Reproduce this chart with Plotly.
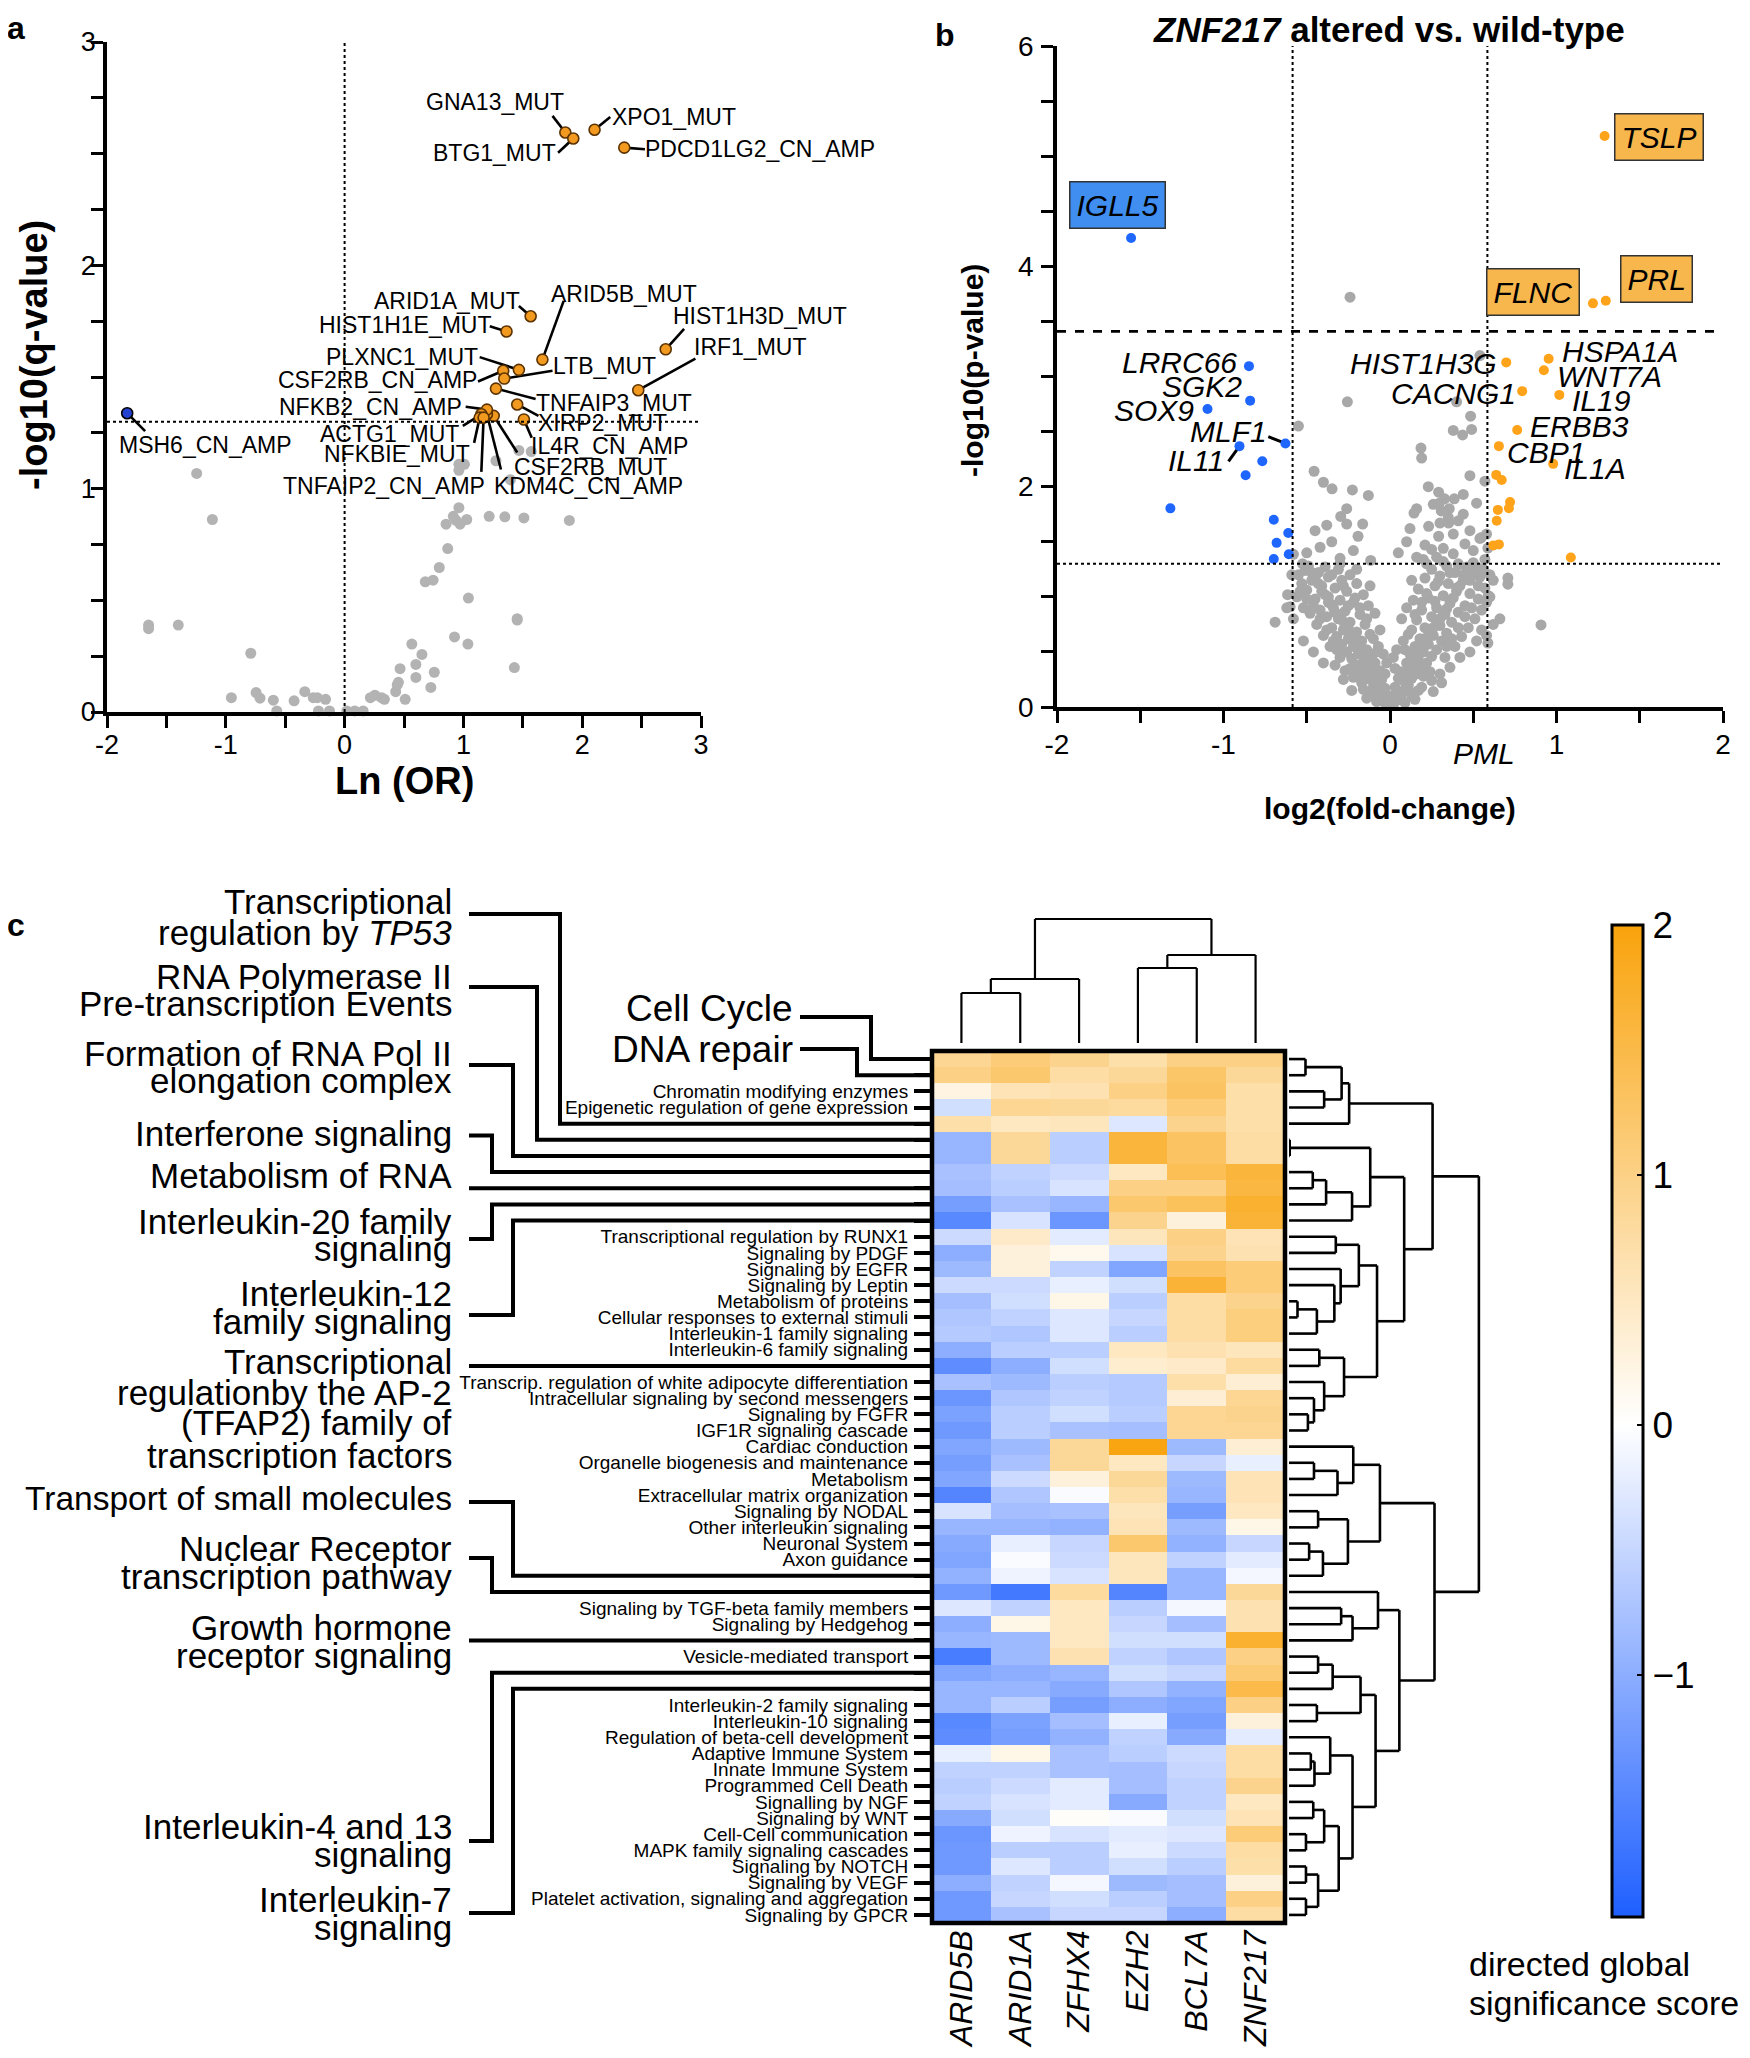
import plotly.graph_objects as go

W, H = 1750, 2058          # page size
PAGE_MARGIN = 8            # default body margin of the html page
FONT = "Liberation Sans, Arial, Helvetica, sans-serif"

# ===================== DATA : panel a =====================
a_gray_points = [
    (-1.245, 1.068), (-1.113, 0.862), (-1.65, 0.389), (-1.65, 0.373), (-1.40, 0.389),
    (-0.79, 0.263), (-0.953, 0.064), (-0.745, 0.087), (-0.712, 0.062), (-0.60, 0.053),
    (-0.571, 0.005), (-0.425, 0.05), (-0.335, 0.091), (-0.264, 0.064), (-0.23, 0.064),
    (-0.16, 0.057), (-0.22, 0.005), (-0.127, 0.005), (0.019, 0.005), (0.085, 0.005),
    (0.156, 0.005), (0.217, 0.064), (0.255, 0.075), (0.311, 0.064), (0.335, 0.057),
    (0.43, 0.091), (0.443, 0.121), (0.453, 0.133), (0.51, 0.057), (0.467, 0.194),
    (0.566, 0.304), (0.60, 0.213), (0.60, 0.155), (0.651, 0.258), (0.726, 0.11),
    (0.755, 0.178), (0.679, 0.583), (0.745, 0.59), (0.797, 0.647), (0.868, 0.732),
    (0.854, 0.841), (0.915, 0.876), (0.939, 0.858), (0.962, 0.915), (0.972, 0.841),
    (1.028, 0.862), (1.042, 0.51), (0.925, 0.336), (1.038, 0.304), (1.217, 0.876),
    (1.349, 0.874), (1.509, 0.869), (1.892, 0.858), (1.453, 0.412), (1.453, 0.418),
    (1.429, 0.199), (0.962, 1.109), (1.009, 1.109), (0.962, 1.082), (1.274, 1.125),
    (1.396, 1.04), (1.467, 1.171), (1.571, 1.166),
]
a_sig_names = ["GNA13_MUT", "BTG1_MUT", "XPO1_MUT", "PDCD1LG2_CN_AMP", "ARID1A_MUT",
               "HIST1H1E_MUT", "ARID5B_MUT", "HIST1H3D_MUT", "PLXNC1_MUT", "CSF2RB_CN_AMP",
               "LTB_MUT", "IRF1_MUT", "TNFAIP3_MUT", "XIRP2_MUT", "IL4R_CN_AMP",
               "CSF2RB_MUT", "KDM4C_CN_AMP", "NFKB2_CN_AMP", "ACTG1_MUT", "NFKBIE_MUT",
               "TNFAIP2_CN_AMP"]
a_sig_x = [1.858, 1.925, 2.104, 2.354, 1.566, 1.363, 1.665, 2.703, 1.467, 1.335,
           1.344, 2.472, 1.274, 1.453, 1.509, 1.255, 1.198, 1.198, 1.151, 1.137, 1.170]
a_sig_y = [2.595, 2.568, 2.607, 2.527, 1.772, 1.704, 1.578, 1.624, 1.532, 1.528,
           1.493, 1.441, 1.448, 1.377, 1.310, 1.326, 1.333, 1.354, 1.333, 1.318, 1.318]
a_neg_names = ["MSH6_CN_AMP"]
a_neg_x = [-1.83]
a_neg_y = [1.338]
a_x_ticks = [-2, -1, 0, 1, 2, 3]
a_y_ticks = [0, 1, 2, 3]
a_q_cut = 1.30

# ===================== DATA : panel b =====================
b_gray_points = [
    (-0.24, 3.72), (-0.256, 2.77), (-0.55, 2.55), (0.54, 3.19), (0.40, 2.77), (0.484, 2.64),
    (0.49, 2.52), (0.38, 2.51), (0.436, 2.47), (0.186, 2.35), (0.19, 2.26),
    (-0.456, 2.14), (-0.40, 2.04), (-0.348, 1.98), (-0.226, 1.97), (-0.13, 1.92), (-0.26, 1.80),
    (-0.296, 1.73), (-0.26, 1.66), (-0.164, 1.66), (-0.192, 1.55),
    (0.292, 1.95), (0.44, 1.93), (0.386, 1.89), (0.328, 1.89), (0.26, 1.84), (0.296, 1.85),
    (0.308, 1.78), (0.356, 1.80), (0.16, 1.80), (0.144, 1.76), (0.232, 1.64), (0.30, 1.67),
    (0.352, 1.67), (0.41, 1.69), (0.292, 1.55), (0.38, 1.57), (0.21, 1.47), (0.25, 1.43),
    (0.32, 1.44), (0.38, 1.39), (0.50, 1.42), (0.54, 1.53), (0.58, 1.57), (0.16, 1.36),
    (0.20, 1.34), (0.28, 1.36), (0.41, 1.29), (0.50, 1.31), (0.57, 1.34), (0.588, 1.443),
    (0.548, 1.538), (0.521, 1.253), (0.498, 1.267),
    (-0.116, 1.33), (-0.58, 1.386), (-0.525, 1.30), (-0.59, 1.20), (-0.615, 1.02),
    (-0.60, 0.91), (-0.69, 0.77), (0.708, 1.17), (0.708, 1.115), (0.907, 0.745), (0.588, 0.58),
    (-0.42, 1.45), (-0.35, 1.50), (-0.30, 1.35), (-0.22, 1.42), (-0.45, 1.60), (-0.50, 1.40),
    (-0.38, 1.65), (0.10, 1.50), (0.12, 1.62), (0.05, 1.40), (0.45, 1.48), (0.48, 1.60),
    (0.44, 1.75), (0.35, 1.72), (0.52, 1.85), (0.57, 2.05), (0.48, 2.10), (0.23, 2.00),
    (-0.02, 0.02), (-0.04, 0.05), (-0.06, 0.08), (-0.05, 0.12), (-0.08, 0.15), (-0.10, 0.18),
    (-0.07, 0.22), (-0.12, 0.25), (-0.15, 0.28), (-0.10, 0.30), (-0.18, 0.32), (-0.13, 0.35),
    (-0.20, 0.38), (-0.16, 0.41), (-0.23, 0.44), (-0.11, 0.45), (-0.19, 0.48), (-0.26, 0.50),
    (-0.14, 0.52), (-0.22, 0.55), (-0.29, 0.57), (-0.17, 0.60), (-0.25, 0.62), (-0.32, 0.64),
    (-0.12, 0.66), (-0.20, 0.68), (-0.28, 0.70), (-0.35, 0.72), (-0.15, 0.75), (-0.24, 0.77),
    (-0.31, 0.80), (-0.38, 0.82), (-0.18, 0.84), (-0.27, 0.87), (-0.42, 0.88), (-0.34, 0.90),
    (-0.13, 0.92), (-0.22, 0.95), (-0.30, 0.97), (-0.45, 0.98), (-0.37, 1.00), (-0.16, 1.02),
    (-0.26, 1.05), (-0.50, 1.06), (-0.33, 1.08), (-0.41, 1.10), (-0.20, 1.12), (-0.29, 1.15),
    (-0.47, 1.15), (-0.37, 1.18), (-0.24, 1.20), (-0.55, 1.20), (-0.43, 1.22), (-0.31, 1.25),
    (-0.49, 1.28), (-0.09, 0.40), (-0.07, 0.55), (-0.30, 0.45), (-0.36, 0.55), (-0.40, 0.65),
    (-0.44, 0.75), (-0.48, 0.85), (-0.52, 0.90), (-0.56, 1.00), (-0.33, 0.38), (-0.27, 0.33),
    (-0.22, 0.27), (-0.17, 0.22), (-0.12, 0.10), (-0.03, 0.30), (-0.06, 0.70), (-0.09, 0.85),
    (-0.23, 0.15), (-0.28, 0.25), (-0.08, 0.05), (-0.14, 0.08), (-0.62, 0.90), (-0.58, 0.80),
    (-0.52, 0.60), (-0.46, 0.50), (-0.40, 0.40),
    (-0.01, 0.10), (-0.03, 0.17), (-0.05, 0.25), (-0.02, 0.40), (-0.04, 0.48), (-0.06, 0.33),
    (-0.09, 0.27), (-0.11, 0.36), (-0.13, 0.43), (-0.15, 0.47), (-0.17, 0.53), (-0.19, 0.57),
    (-0.21, 0.62), (-0.23, 0.66), (-0.25, 0.71), (-0.27, 0.74), (-0.29, 0.79), (-0.31, 0.84),
    (-0.33, 0.86), (-0.35, 0.93), (-0.37, 0.95), (-0.39, 1.02), (-0.41, 1.05), (-0.43, 1.12),
    (-0.45, 1.18), (-0.47, 1.22), (-0.51, 1.24), (-0.53, 1.12), (-0.39, 1.27), (-0.35, 1.20),
    (-0.28, 1.10), (-0.21, 0.99), (-0.18, 0.90), (-0.14, 0.80), (-0.10, 0.62), (-0.08, 0.50),
    (-0.24, 0.35), (-0.20, 0.30), (-0.16, 0.16), (-0.11, 0.13), (-0.07, 0.11), (-0.32, 0.52),
    (-0.34, 0.60), (-0.38, 0.70), (-0.42, 0.80), (-0.46, 0.92), (-0.50, 0.98), (-0.54, 1.05),
    (-0.25, 0.92), (-0.12, 1.10), (-0.30, 1.30), (-0.20, 1.25),
    (0.02, 0.02), (0.04, 0.06), (0.06, 0.10), (0.05, 0.14), (0.09, 0.16), (0.11, 0.20),
    (0.08, 0.24), (0.13, 0.26), (0.16, 0.30), (0.11, 0.33), (0.19, 0.35), (0.14, 0.38),
    (0.22, 0.40), (0.17, 0.43), (0.25, 0.46), (0.12, 0.48), (0.20, 0.50), (0.28, 0.52),
    (0.15, 0.55), (0.23, 0.57), (0.31, 0.60), (0.18, 0.62), (0.26, 0.65), (0.34, 0.67),
    (0.13, 0.70), (0.21, 0.72), (0.30, 0.74), (0.37, 0.77), (0.16, 0.79), (0.25, 0.82),
    (0.33, 0.84), (0.41, 0.86), (0.19, 0.88), (0.28, 0.90), (0.45, 0.92), (0.36, 0.94),
    (0.14, 0.97), (0.23, 0.99), (0.32, 1.01), (0.48, 1.03), (0.40, 1.05), (0.17, 1.07),
    (0.27, 1.10), (0.53, 1.10), (0.35, 1.12), (0.44, 1.15), (0.21, 1.17), (0.30, 1.19),
    (0.50, 1.20), (0.39, 1.22), (0.25, 1.25), (0.56, 1.25), (0.46, 1.27), (0.34, 1.28),
    (0.10, 0.40), (0.08, 0.60), (0.33, 0.45), (0.39, 0.55), (0.43, 0.64), (0.47, 0.72),
    (0.51, 0.80), (0.55, 0.88), (0.36, 0.36), (0.30, 0.30), (0.25, 0.24), (0.19, 0.18),
    (0.13, 0.11), (0.03, 0.35), (0.07, 0.80), (0.10, 0.90), (0.26, 0.14), (0.31, 0.22),
    (0.09, 0.04), (0.15, 0.07), (0.42, 0.45), (0.58, 0.95), (0.60, 1.00), (0.62, 0.75),
    (0.66, 0.80), (0.48, 0.50), (0.52, 0.60), (0.59, 1.01),
    (0.01, 0.10), (0.03, 0.18), (0.05, 0.26), (0.02, 0.45), (0.04, 0.52), (0.07, 0.32),
    (0.10, 0.27), (0.12, 0.37), (0.14, 0.44), (0.16, 0.49), (0.18, 0.54), (0.20, 0.58),
    (0.22, 0.63), (0.24, 0.68), (0.26, 0.72), (0.28, 0.76), (0.30, 0.80), (0.32, 0.86),
    (0.34, 0.89), (0.36, 0.97), (0.38, 0.99), (0.40, 1.08), (0.42, 1.10), (0.44, 1.20),
    (0.46, 1.22), (0.48, 1.15), (0.52, 1.27), (0.54, 1.18), (0.41, 1.30), (0.36, 1.22),
    (0.29, 1.14), (0.22, 1.03), (0.19, 0.95), (0.15, 0.84), (0.11, 0.66), (0.09, 0.52),
    (0.24, 0.32), (0.20, 0.28), (0.17, 0.15), (0.12, 0.14), (0.07, 0.12), (0.34, 0.55),
    (0.37, 0.62), (0.41, 0.72), (0.45, 0.82), (0.49, 0.90), (0.53, 0.98), (0.57, 1.08),
    (0.27, 0.96), (0.13, 1.15), (0.32, 1.32), (0.22, 1.30), (0.60, 1.20), (0.62, 1.15),
    (0.55, 0.70), (0.58, 0.65),
]
b_down_names = ["IGLL5", "LRRC66", "SGK2", "SOX9", "MLF1", "IL11", "", "", "", "", "", "", "", ""]
b_down_x = [-1.555, -0.847, -0.840, -1.096, -0.628, -0.904, -0.767, -0.867, -1.319, -0.698,
            -0.611, -0.681, -0.608, -0.698]
b_down_y = [4.257, 3.094, 2.781, 2.705, 2.392, 2.368, 2.230, 2.103, 1.803, 1.699,
            1.580, 1.490, 1.386, 1.343]
b_up_names = ["TSLP", "PRL", "FLNC", "HSPA1A", "HIST1H3G", "WNT7A", "CACNG1", "IL19", "ERBB3",
              "CBP1", "IL1A", "", "", "", "", "", "", "", "", ""]
b_up_x = [1.289, 1.296, 1.219, 0.953, 0.698, 0.924, 0.794, 1.017, 0.764, 0.654, 0.980,
          0.638, 0.671, 0.721, 0.648, 0.714, 0.641, 0.621, 0.654, 1.086]
b_up_y = [5.183, 3.688, 3.664, 3.161, 3.128, 3.056, 2.867, 2.833, 2.515, 2.368, 2.207,
          2.107, 2.060, 1.860, 1.789, 1.804, 1.690, 1.467, 1.476, 1.357]
b_x_ticks = [-2, -1, 0, 1, 2]
b_y_ticks = [0, 2, 4, 6]
b_p_adj_cut = 3.41
b_p_cut = 1.30
b_fc_cut = 0.585

# ===================== DATA : panel c =====================
c_genes = ["ARID5B", "ARID1A", "ZFHX4", "EZH2", "BCL7A", "ZNF217"]
c_pathways = [
    "Cell Cycle", "DNA repair", "Chromatin modifying enzymes",
    "Epigenetic regulation of gene expression", "Transcriptional regulation by TP53",
    "RNA Polymerase II Pre-transcription Events", "Formation of RNA Pol II elongation complex",
    "Interferone signaling", "Metabolism of RNA", "Interleukin-20 family signaling",
    "Interleukin-12 family signaling", "Transcriptional regulation by RUNX1", "Signaling by PDGF",
    "Signaling by EGFR", "Signaling by Leptin", "Metabolism of proteins",
    "Cellular responses to external stimuli", "Interleukin-1 family signaling",
    "Interleukin-6 family signaling",
    "Transcriptional regulationby the AP-2 (TFAP2) family of transcription factors",
    "Transcrip. regulation of white adipocyte differentiation",
    "Intracellular signaling by second messengers", "Signaling by FGFR",
    "IGF1R signaling cascade", "Cardiac conduction", "Organelle biogenesis and maintenance",
    "Metabolism", "Extracellular matrix organization", "Signaling by NODAL",
    "Other interleukin signaling", "Neuronal System", "Axon guidance",
    "Transport of small molecules", "Nuclear Receptor transcription pathway",
    "Signaling by TGF-beta family members", "Signaling by Hedgehog",
    "Growth hormone receptor signaling", "Vesicle-mediated transport",
    "Interleukin-4 and 13 signaling", "Interleukin-7 signaling",
    "Interleukin-2 family signaling", "Interleukin-10 signaling",
    "Regulation of beta-cell development", "Adaptive Immune System", "Innate Immune System",
    "Programmed Cell Death", "Signalling by NGF", "Signaling by WNT", "Cell-Cell communication",
    "MAPK family signaling cascades", "Signaling by NOTCH", "Signaling by VEGF",
    "Platelet activation, signaling and aggregation", "Signaling by GPCR",
]
c_highlighted = [0, 1, 4, 5, 6, 7, 8, 9, 10, 19, 32, 33, 36, 38, 39]
c_scores = [
    [0.90, 1.10, 0.95, 0.70, 1.00, 1.00],
    [1.00, 1.20, 0.75, 0.85, 1.25, 0.85],
    [0.25, 0.60, 0.65, 1.00, 1.30, 0.70],
    [-0.40, 0.90, 0.85, 0.80, 1.10, 0.70],
    [0.70, 0.50, 0.55, -0.30, 0.95, 0.70],
    [-0.90, 0.85, -0.60, 1.60, 1.30, 0.75],
    [-0.90, 0.85, -0.60, 1.60, 1.30, 0.75],
    [-0.75, -0.55, -0.45, 0.50, 1.40, 1.60],
    [-0.80, -0.60, -0.35, 1.00, 1.00, 1.55],
    [-1.20, -0.75, -0.90, 1.20, 1.35, 1.70],
    [-1.45, -0.35, -1.30, 0.95, 0.30, 1.65],
    [-0.45, 0.45, -0.25, 0.55, 1.00, 0.60],
    [-1.00, 0.30, 0.15, -0.35, 0.95, 0.65],
    [-0.85, 0.30, -0.55, -1.10, 1.30, 1.10],
    [-0.45, -0.45, -0.20, -0.40, 1.65, 1.10],
    [-0.80, -0.40, 0.20, -0.60, 0.75, 0.95],
    [-0.70, -0.55, -0.30, -0.50, 0.75, 1.05],
    [-0.65, -0.70, -0.30, -0.60, 0.75, 1.05],
    [-1.00, -0.60, -0.60, 0.50, 0.65, 0.55],
    [-1.40, -1.00, -0.40, 0.40, 0.45, 0.80],
    [-0.75, -0.85, -0.60, -0.65, 0.70, 0.35],
    [-1.30, -0.70, -0.55, -0.65, 0.35, 0.90],
    [-1.15, -0.60, -0.40, -0.60, 0.90, 0.95],
    [-1.25, -0.60, -0.75, -0.80, 0.90, 0.90],
    [-1.10, -0.85, 0.85, 1.95, -0.85, 0.35],
    [-1.20, -0.75, 0.85, 0.50, -0.50, -0.20],
    [-1.10, -0.45, 0.30, 0.85, -0.85, 0.60],
    [-1.50, -0.70, -0.05, 0.70, -0.90, 0.60],
    [-0.35, -0.80, -0.75, 0.55, -1.20, 0.50],
    [-0.90, -0.90, -0.95, 0.60, -0.85, 0.20],
    [-1.05, -0.20, -0.50, 1.20, -0.95, -0.50],
    [-1.10, -0.05, -0.45, 0.55, -0.55, -0.25],
    [-0.95, -0.15, -0.35, 0.55, -0.90, -0.10],
    [-1.25, -1.65, 0.80, -1.50, -0.90, 0.85],
    [-0.30, -0.55, 0.50, -0.60, -0.10, 0.65],
    [-1.00, 0.20, 0.50, -0.50, -0.80, 0.65],
    [-0.90, -0.85, 0.50, -0.40, -0.40, 1.70],
    [-1.60, -0.85, 0.65, -0.55, -0.70, 1.00],
    [-1.10, -1.00, -0.90, -0.40, -0.50, 1.15],
    [-0.90, -0.90, -1.05, -0.70, -0.95, 1.50],
    [-0.90, -0.60, -1.20, -1.00, -1.10, 1.00],
    [-1.45, -1.15, -0.80, -0.20, -1.20, 0.30],
    [-1.40, -1.20, -0.95, -0.55, -1.05, -0.25],
    [-0.20, 0.20, -0.75, -0.60, -0.45, 0.75],
    [-0.55, -0.55, -0.75, -0.80, -0.50, 0.75],
    [-0.60, -0.45, -0.25, -0.80, -0.55, 0.95],
    [-0.55, -0.35, -0.25, -1.05, -0.55, 0.50],
    [-1.05, -0.40, 0.05, -0.05, -0.40, 0.60],
    [-1.30, -0.15, -0.35, -0.25, -0.30, 1.10],
    [-1.25, -0.60, -0.60, -0.20, -0.45, 0.75],
    [-1.25, -0.30, -0.60, -0.40, -0.60, 0.70],
    [-1.00, -0.55, -0.10, -0.85, -0.80, 0.30],
    [-1.25, -0.50, -0.40, -0.60, -0.80, 1.00],
    [-1.25, -0.75, -0.50, -0.50, -1.00, 0.75],
]
# column clustering (left, right, merge height)
c_col_tree = (((0, 1, 0.50), 2, 0.64), ((3, 4, 0.75), 5, 0.88), 1.24)
# row clustering
c_row_tree = (
    ((((0, 1, 0.68), (2, 3, 1.45), 2.17), 4, 2.48),
     (((5, 6, 0.03), (((7, 8, 0.98), 9, 1.53), 10, 2.60), 3.35),
      (((11, 12, 1.93), (13, (14, ((15, 16, 0.35), 17, 1.15), 1.87), 2.13), 2.88),
       ((18, 19, 1.25), (20, (21, (22, 23, 0.78), 1.03), 1.45), 2.27), 3.63), 4.75), 5.92),
    (((24, ((25, 26, 1.03), 27, 2.00), 2.65), ((28, 29, 1.20), ((30, 31, 0.83), 32, 1.40), 2.43), 3.75),
     ((33, ((34, 35, 2.15), 36, 2.62), 3.67),
      ((((37, 38, 1.20), 39, 1.80), (40, 41, 1.15), 2.95),
       ((42, ((43, 44, 0.90), 45, 1.05), 1.70),
        (((46, 47, 1.00), (48, 49, 0.70), 1.45), ((50, 51, 0.70), (52, 53, 0.70), 1.20), 2.05),
        2.62), 3.57), 4.55), 6.00),
    7.83)
c_zmin, c_zmax = -1.97, 2.0
c_cbar_ticks = [2, 1, 0, -1]

# ===================== LAYOUT / STYLE =====================
FW, FH = W - 2 * PAGE_MARGIN, H - 2 * PAGE_MARGIN


def X(px):
    return (px - PAGE_MARGIN) / FW


def Y(py):
    return 1 - (py - PAGE_MARGIN) / FH


PA = dict(xd=(107, 701), yd=(712, 42), xr=(-2, 3), yr=(0, 3))
PB = dict(xd=(1057, 1723), yd=(707, 46), xr=(-2, 2), yr=(0, 6))


def to_paper(p, x, y):
    px = p["xd"][0] + (x - p["xr"][0]) / (p["xr"][1] - p["xr"][0]) * (p["xd"][1] - p["xd"][0])
    py = p["yd"][0] + (y - p["yr"][0]) / (p["yr"][1] - p["yr"][0]) * (p["yd"][1] - p["yd"][0])
    return X(px), Y(py)


# label text position (x, y) and leader line start (x, y), in data units
A_LABEL_POS = {
    "GNA13_MUT": (1.27, 2.733, 1.75, 2.669),
    "BTG1_MUT": (1.264, 2.504, 1.797, 2.504),
    "XPO1_MUT": (2.77, 2.664, 2.236, 2.664),
    "PDCD1LG2_CN_AMP": (3.495, 2.52, 2.528, 2.52),
    "ARID1A_MUT": (0.858, 1.84, 1.467, 1.818),
    "HIST1H1E_MUT": (0.51, 1.733, 1.222, 1.727),
    "ARID5B_MUT": (2.35, 1.87, 1.844, 1.841),
    "HIST1H3D_MUT": (3.495, 1.772, 2.858, 1.715),
    "PLXNC1_MUT": (0.481, 1.589, 1.137, 1.589),
    "CSF2RB_CN_AMP": (0.28, 1.486, 1.123, 1.48),
    "LTB_MUT": (2.19, 1.548, 1.75, 1.528),
    "IRF1_MUT": (3.41, 1.635, 2.953, 1.582),
    "TNFAIP3_MUT": (2.27, 1.383, 1.608, 1.402),
    "XIRP2_MUT": (2.17, 1.292, 1.632, 1.326),
    "IL4R_CN_AMP": (2.23, 1.189, 1.575, 1.228),
    "CSF2RB_MUT": (2.07, 1.098, 1.453, 1.162),
    "KDM4C_CN_AMP": (2.05, 1.011, 1.316, 1.086),
    "NFKB2_CN_AMP": (0.22, 1.367, 1.019, 1.367),
    "ACTG1_MUT": (0.38, 1.246, 0.995, 1.281),
    "NFKBIE_MUT": (0.443, 1.155, 1.09, 1.205),
    "TNFAIP2_CN_AMP": (0.335, 1.011, 1.151, 1.075),
    "MSH6_CN_AMP": (-1.17, 1.194, -1.679, 1.258),
}
B_LABEL_POS = {
    "IGLL5": (-1.638, 4.556, "blue"), "TSLP": (1.618, 5.178, "orange"),
    "PRL": (1.601, 3.887, "orange"), "FLNC": (0.857, 3.764, "orange"),
    "LRRC66": (-1.262, 3.13, None), "SGK2": (-1.13, 2.905, None), "SOX9": (-1.415, 2.69, None),
    "MLF1": (-0.967, 2.50, None), "IL11": (-1.166, 2.24, None),
    "HIST1H3G": (0.20, 3.118, None), "CACNG1": (0.382, 2.848, None),
    "HSPA1A": (1.379, 3.227, None), "WNT7A": (1.316, 3.0, None), "IL19": (1.27, 2.786, None),
    "ERBB3": (1.14, 2.549, None), "CBP1": (0.934, 2.311, None), "IL1A": (1.229, 2.169, None),
}
B_LEADERS = {"MLF1": (-0.731, 2.454), "IL11": (-0.97, 2.23)}
B_EXTRA_LABEL = ("PML", 0.565, -0.42)

# big label layout: row -> (lines, text y px, elbow y px or None, elbow x px)
C_BIG = {
    4: (["Transcriptional", "regulation by <i>TP53</i>"], [901, 933], 914, 560),
    5: (["RNA Polymerase II", "Pre-transcription Events"], [977, 1003.5], 987, 537),
    6: (["Formation of RNA Pol II", "elongation complex"], [1053, 1080], 1065, 513),
    7: (["Interferone signaling"], [1133.6], 1135.5, 492),
    8: (["Metabolism of RNA"], [1175.7], None, None),
    9: (["Interleukin-20 family", "signaling"], [1221.6, 1248.4], 1239, 492),
    10: (["Interleukin-12", "family signaling"], [1293.6, 1321], 1315, 513),
    19: (["Transcriptional", "regulationby the AP-2", "(TFAP2) family of", "transcription factors"],
         [1361, 1392, 1422.6, 1455.8], None, None),
    32: (["Transport of small molecules"], [1498], 1502, 513),
    33: (["Nuclear Receptor", "transcription pathway"], [1548, 1576], 1558, 492),
    36: (["Growth hormone", "receptor signaling"], [1627, 1655], None, None),
    38: (["Interleukin-4 and 13", "signaling"], [1826, 1854], 1841, 492),
    39: (["Interleukin-7", "signaling"], [1899, 1927], 1913, 513),
}
C_BIG_SIZE = {32: 33.5}
C_NEAR = {0: ("Cell Cycle", 1008, 1017, 871), 1: ("DNA repair", 1049, 1049, 857)}

HM_X0, HM_X1, HM_Y0, HM_Y1 = 932, 1285, 1051, 1923
BIG_RIGHT, LEAD_X0 = 454, 469
NEAR_RIGHT, NEAR_LEAD_X0 = 795, 800
BIG_SIZE = 35

ORANGE_A, ORANGE_A_EDGE = "#f29a1f", "#5c3300"
BLUE_A = "#2340d0"
GRAY_A, GRAY_B = "#b3b3b3", "#a8a8a8"
ORANGE_B, BLUE_B = "#ffa31a", "#1f66ff"
BOX_ORANGE, BOX_BLUE = "#f8b74d", "#3f8ef0"

fig = go.Figure()
annotations, shapes = [], []


def text_ann(x, y, text, size, **kw):
    d = dict(x=x, y=y, xref="paper", yref="paper", text=text, showarrow=False,
             xanchor="center", yanchor="middle",
             font=dict(size=size, family=FONT, color="black"))
    d.update(kw)
    return d


# ---------------- panel a ----------------
seg_x, seg_y = [], []
for n, px, py in zip(a_sig_names + a_neg_names, a_sig_x + a_neg_x, a_sig_y + a_neg_y):
    tx, ty, lx, ly = A_LABEL_POS[n]
    seg_x += [lx, px, None]
    seg_y += [ly, py, None]
    annotations.append(text_ann(*to_paper(PA, tx, ty), n, 23))
fig.add_trace(go.Scatter(x=[p[0] for p in a_gray_points], y=[p[1] for p in a_gray_points],
                         mode="markers", marker=dict(size=11, color=GRAY_A),
                         cliponaxis=False, xaxis="x", yaxis="y", hoverinfo="skip"))
fig.add_trace(go.Scatter(x=seg_x, y=seg_y, mode="lines", line=dict(color="black", width=2.6),
                         xaxis="x", yaxis="y", hoverinfo="skip", cliponaxis=False))
fig.add_trace(go.Scatter(x=a_sig_x, y=a_sig_y, mode="markers", text=a_sig_names,
                         marker=dict(size=11, color=ORANGE_A, line=dict(color=ORANGE_A_EDGE, width=1.6)),
                         xaxis="x", yaxis="y", cliponaxis=False))
fig.add_trace(go.Scatter(x=a_neg_x, y=a_neg_y, mode="markers", text=a_neg_names,
                         marker=dict(size=11, color=BLUE_A, line=dict(color="black", width=1.6)),
                         xaxis="x", yaxis="y", cliponaxis=False))
shapes.append(dict(type="line", xref="x", yref="y", x0=0, x1=0, y0=0, y1=3,
                   line=dict(color="black", width=2, dash="dot")))
shapes.append(dict(type="line", xref="x", yref="y", x0=-2, x1=3, y0=a_q_cut, y1=a_q_cut,
                   line=dict(color="black", width=2, dash="dot")))

# ---------------- panel b ----------------
fig.add_trace(go.Scatter(x=[p[0] for p in b_gray_points], y=[p[1] for p in b_gray_points],
                         mode="markers", marker=dict(size=11, color=GRAY_B),
                         xaxis="x2", yaxis="y2", cliponaxis=False, hoverinfo="skip"))
lx_, ly_ = [], []
for n, (sx, sy) in B_LEADERS.items():
    i = b_down_names.index(n)
    lx_ += [sx, b_down_x[i], None]
    ly_ += [sy, b_down_y[i], None]
fig.add_trace(go.Scatter(x=lx_, y=ly_, mode="lines", line=dict(color="black", width=3),
                         xaxis="x2", yaxis="y2", hoverinfo="skip"))
fig.add_trace(go.Scatter(x=b_down_x, y=b_down_y, mode="markers", text=b_down_names,
                         marker=dict(size=10, color=BLUE_B), xaxis="x2", yaxis="y2", cliponaxis=False))
fig.add_trace(go.Scatter(x=b_up_x, y=b_up_y, mode="markers", text=b_up_names,
                         marker=dict(size=10, color=ORANGE_B), xaxis="x2", yaxis="y2", cliponaxis=False))
for n, (tx, ty, box) in B_LABEL_POS.items():
    ann = text_ann(*to_paper(PB, tx, ty), "<i>%s</i>" % n, 30)
    if box:
        ann.update(bgcolor=BOX_BLUE if box == "blue" else BOX_ORANGE, bordercolor="#333333",
                   borderwidth=1.5, borderpad=6)
    annotations.append(ann)
annotations.append(text_ann(*to_paper(PB, B_EXTRA_LABEL[1], B_EXTRA_LABEL[2]),
                            "<i>%s</i>" % B_EXTRA_LABEL[0], 30))
for xv in (-b_fc_cut, b_fc_cut):
    shapes.append(dict(type="line", xref="x2", yref="y2", x0=xv, x1=xv, y0=0, y1=6,
                       line=dict(color="black", width=2, dash="dot")))
shapes.append(dict(type="line", xref="x2", yref="y2", x0=-2, x1=2, y0=b_p_cut, y1=b_p_cut,
                   line=dict(color="black", width=2, dash="dot")))
shapes.append(dict(type="line", xref="x2", yref="y2", x0=-2, x1=2, y0=b_p_adj_cut, y1=b_p_adj_cut,
                   line=dict(color="black", width=2.6, dash="dash")))

# ---------------- panel c : heatmap ----------------
nrow = len(c_pathways)
mid = (0 - c_zmin) / (c_zmax - c_zmin)
colorscale = [[0, "rgb(30,95,255)"], [mid, "rgb(255,255,255)"], [1, "rgb(249,163,12)"]]
fig.add_trace(go.Heatmap(
    z=c_scores, x=list(range(len(c_genes))), y=list(range(nrow)),
    colorscale=colorscale, zmin=c_zmin, zmax=c_zmax, xaxis="x3", yaxis="y3",
    colorbar=dict(x=X(1612), xanchor="left", y=Y((925 + 1917) / 2), yanchor="middle",
                  len=(1917 - 925) / FH, lenmode="fraction", thickness=31, thicknessmode="pixels",
                  outlinewidth=3, outlinecolor="black", tickvals=c_cbar_ticks,
                  ticktext=[str(t) if t >= 0 else "\u2212%d" % -t for t in c_cbar_ticks],
                  ticks="inside", ticklen=7, tickwidth=2, tickcolor="black",
                  tickfont=dict(size=37, family=FONT, color="black"), xpad=0, ypad=0),
))


def tree_segments(node, out):
    if isinstance(node, int):
        return float(node), 0.0
    left, right, h = node
    pl, hl = tree_segments(left, out)
    pr, hr = tree_segments(right, out)
    out += [((pl, hl), (pl, h)), ((pr, hr), (pr, h)), ((pl, h), (pr, h))]
    return (pl + pr) / 2, h


segs = []
tree_segments(c_col_tree, segs)
dx, dy = [], []
for (p0, h0), (p1, h1) in segs:
    dx += [p0, p1, None]
    dy += [h0, h1, None]
fig.add_trace(go.Scatter(x=dx, y=dy, mode="lines", line=dict(color="black", width=2.2),
                         xaxis="x4", yaxis="y4", hoverinfo="skip"))
segs = []
tree_segments(c_row_tree, segs)
dx, dy = [], []
for (p0, h0), (p1, h1) in segs:
    dx += [h0, h1, None]
    dy += [p0, p1, None]
fig.add_trace(go.Scatter(x=dx, y=dy, mode="lines", line=dict(color="black", width=2.6),
                         xaxis="x5", yaxis="y5", hoverinfo="skip"))

# heatmap frame
shapes.append(dict(type="rect", xref="paper", yref="paper", x0=X(HM_X0), x1=X(HM_X1),
                   y0=Y(HM_Y1), y1=Y(HM_Y0), line=dict(color="black", width=4.5)))


def row_py(r):
    return HM_Y0 + (r + 0.5) * (HM_Y1 - HM_Y0) / nrow


for r, (lines, ys, ely, elx) in C_BIG.items():
    for t, yy in zip(lines, ys):
        annotations.append(text_ann(X(BIG_RIGHT), Y(yy), t, C_BIG_SIZE.get(r, BIG_SIZE),
                                    xanchor="right"))
    ry = row_py(r)
    if ely is None:
        path = "M %f,%f L %f,%f" % (X(LEAD_X0), Y(ry), X(HM_X0), Y(ry))
    else:
        path = "M %f,%f L %f,%f L %f,%f L %f,%f" % (X(LEAD_X0), Y(ely), X(elx), Y(ely),
                                                    X(elx), Y(ry), X(HM_X0), Y(ry))
    shapes.append(dict(type="path", xref="paper", yref="paper", path=path,
                       line=dict(color="black", width=4)))
for r, (t, ty, ely, elx) in C_NEAR.items():
    annotations.append(text_ann(X(NEAR_RIGHT), Y(ty), t, 37, xanchor="right"))
    ry = row_py(r)
    path = "M %f,%f L %f,%f L %f,%f L %f,%f" % (X(NEAR_LEAD_X0), Y(ely), X(elx), Y(ely),
                                                X(elx), Y(ry), X(HM_X0), Y(ry))
    shapes.append(dict(type="path", xref="paper", yref="paper", path=path,
                       line=dict(color="black", width=4)))

# colorbar title
for t, yy in (("directed global", 1964), ("significance score", 2003)):
    annotations.append(text_ann(X(1467), Y(yy), t, 34, xanchor="left"))

# titles, panel letters
annotations += [
    text_ann(X(16), Y(28), "<b>a</b>", 32),
    text_ann(X(945), Y(35), "<b>b</b>", 32),
    text_ann(X(16), Y(925), "<b>c</b>", 32),
    text_ann(X(1389), Y(29), "<b><i>ZNF217</i> altered vs. wild-type</b>", 35),
    text_ann(X(404), Y(781), "<b>Ln (OR)</b>", 38),
    text_ann(X(34), Y(355), "<b>-log10(q-value)</b>", 38, textangle=-90),
    text_ann(X(1390), Y(808), "<b>log2(fold-change)</b>", 30),
    text_ann(X(972), Y(371), "<b>-log10(p-value)</b>", 30, textangle=-90),
]


def num_axis(p, ticks, minor, size, standoff, anchor, is_x):
    d = dict(tickmode="array", tickvals=ticks, ticktext=[str(t) for t in ticks],
             showline=True, linecolor="black", linewidth=3.5, ticks="outside", ticklen=12,
             tickwidth=3, tickcolor="black", showgrid=False, zeroline=False, automargin=False,
             ticklabelstandoff=standoff, tickfont=dict(size=size, family=FONT, color="black"),
             minor=dict(tickmode="linear", tick0=0, dtick=minor, ticks="outside", ticklen=12,
                        tickwidth=3, tickcolor="black", showgrid=False), anchor=anchor)
    if is_x:
        d.update(domain=[X(p["xd"][0]), X(p["xd"][1])], range=list(p["xr"]))
    else:
        d.update(domain=[Y(p["yd"][0]), Y(p["yd"][1])], range=list(p["yr"]))
    return d


fig.update_layout(
    width=FW, height=FH, autosize=False,
    margin=dict(l=0, r=0, t=0, b=0, pad=0, autoexpand=False),
    paper_bgcolor="white", plot_bgcolor="rgba(0,0,0,0)", showlegend=False,
    font=dict(family=FONT, color="black"),
    xaxis=num_axis(PA, a_x_ticks, 0.5, 27, -6, "y", True),
    yaxis=num_axis(PA, a_y_ticks, 0.25, 27, -10, "x", False),
    xaxis2=num_axis(PB, b_x_ticks, 0.5, 28, -2, "y2", True),
    yaxis2=num_axis(PB, b_y_ticks, 0.5, 28, 2, "x2", False),
    xaxis3=dict(domain=[X(HM_X0), X(HM_X1)], range=[-0.5, len(c_genes) - 0.5], tickmode="array",
                tickvals=list(range(len(c_genes))), ticktext=["<i>%s</i>" % g for g in c_genes],
                tickangle=-90, ticks="", showline=False, showgrid=False, zeroline=False,
                automargin=False, ticklabelstandoff=0,
                tickfont=dict(size=32, family=FONT, color="black"), anchor="y3"),
    yaxis3=dict(domain=[Y(HM_Y1), Y(HM_Y0)], range=[nrow - 0.5, -0.5], tickmode="array",
                tickvals=list(range(nrow)),
                ticktext=["" if i in c_highlighted else p for i, p in enumerate(c_pathways)],
                ticks="outside", ticklen=17, tickwidth=3.5, tickcolor="black", showline=False,
                showgrid=False, zeroline=False, automargin=False, ticklabelstandoff=2,
                tickfont=dict(size=19, family=FONT, color="black"), anchor="x3"),
    xaxis4=dict(domain=[X(HM_X0), X(HM_X1)], range=[-0.5, len(c_genes) - 0.5], visible=False,
                anchor="y4"),
    yaxis4=dict(domain=[Y(1043), Y(900)], range=[0, 1.43], visible=False, anchor="x4"),
    xaxis5=dict(domain=[X(1289), X(1483)], range=[0, 8.0], visible=False, anchor="y5"),
    yaxis5=dict(domain=[Y(HM_Y1), Y(HM_Y0)], range=[nrow - 0.5, -0.5], visible=False, anchor="x5"),
    annotations=annotations, shapes=shapes,
)

fig.write_html("out.html", config={"displayModeBar": False})
